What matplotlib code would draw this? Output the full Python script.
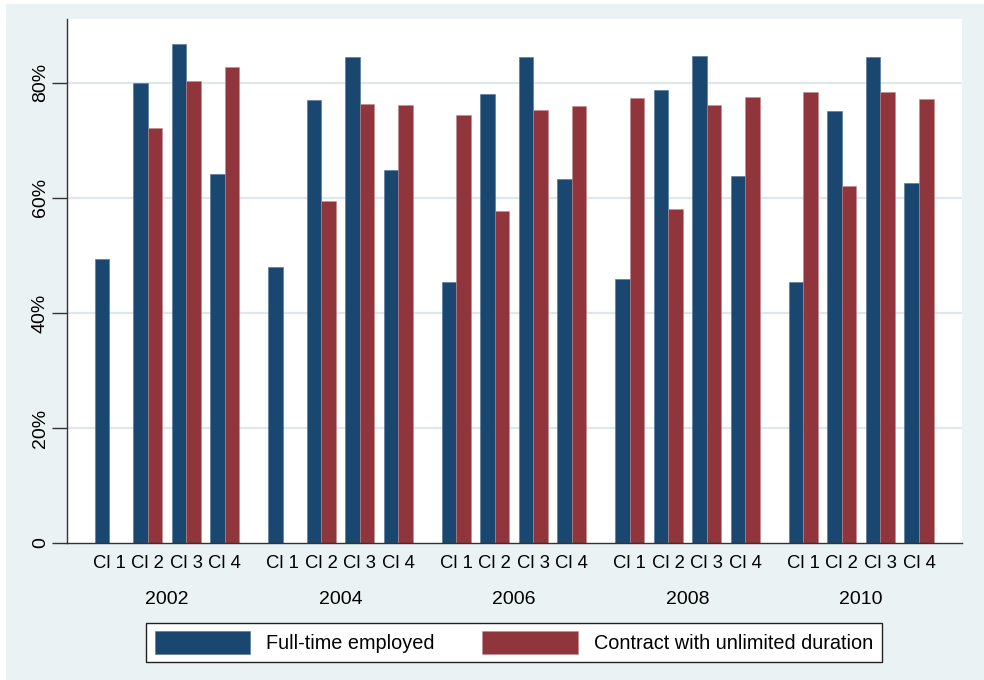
import numpy as np
import matplotlib
matplotlib.use("Agg")
import matplotlib.pyplot as plt
from matplotlib.patches import Rectangle, Patch
from matplotlib.transforms import blended_transform_factory

years = ["2002", "2004", "2006", "2008", "2010"]
classes = ["Cl 1", "Cl 2", "Cl 3", "Cl 4"]
full_time = [
    [49.4, 80.0, 86.8, 64.1],
    [48.0, 77.0, 84.5, 64.9],
    [45.4, 78.0, 84.5, 63.2],
    [45.9, 78.8, 84.6, 63.8],
    [45.4, 75.1, 84.5, 62.6],
]
unlimited = [
    [np.nan, 72.2, 80.3, 82.7],
    [np.nan, 59.4, 76.4, 76.2],
    [74.4, 57.7, 75.3, 75.9],
    [77.3, 58.1, 76.1, 77.5],
    [78.4, 62.1, 78.4, 77.2],
]
series_names = ["Full-time employed", "Contract with unlimited duration"]
yticks = [0, 20, 40, 60, 80]
ytick_labels = ["0", "20%", "40%", "60%", "80%"]

NAVY = "#1A476F"
MAROON = "#90353B"
BG = "#EAF2F3"
GRID = "#DDE8EC"

plt.rcParams["font.family"] = ["Liberation Sans", "DejaVu Sans"]

fig = plt.figure(figsize=(9.84, 6.8), dpi=100)
fig.patch.set_facecolor("white")
fig.patches.append(Rectangle((6 / 984, 0), 1 - 6 / 984, 1 - 4 / 680,
                             transform=fig.transFigure, facecolor=BG,
                             edgecolor="none", zorder=-10))

ax = fig.add_axes([67 / 984, 1 - 543 / 680, (962 - 67) / 984, (543 - 19) / 680])
ax.set_facecolor("white")

gap = 4.5
w = 0.377
centers = []
labels = []
for g, yr in enumerate(years):
    for c, cl in enumerate(classes):
        x = g * gap + c
        centers.append(x)
        labels.append(cl)
        ax.bar(x - w / 2, full_time[g][c], width=w, color=NAVY,
               edgecolor="#4f7396", linewidth=0.4, zorder=3)
        v = unlimited[g][c]
        if not np.isnan(v):
            ax.bar(x + w / 2, v, width=w, color=MAROON,
                   edgecolor="#c08a8e", linewidth=0.4, zorder=3)

ax.set_xlim(-1.094, 22.116)
ax.set_ylim(0, 91.1)

ax.set_xticks(centers)
ax.set_xticklabels(labels, fontsize=13.3)
ax.tick_params(axis="x", length=0, pad=9)

ax.set_yticks(yticks)
ax.set_yticklabels(ytick_labels, fontsize=14, rotation=90, va="center")
ax.tick_params(axis="y", length=11, width=1, color="#333333", pad=2)

for yv in yticks[1:]:
    ax.axhline(yv, color=GRID, linewidth=1.6, zorder=1)

for s in ["top", "right"]:
    ax.spines[s].set_visible(False)
ax.spines["left"].set_color("#333333")
ax.spines["bottom"].set_color("#333333")
ax.spines["left"].set_linewidth(1)
ax.spines["bottom"].set_linewidth(1)
ax.spines["bottom"].set_zorder(5)

tr = blended_transform_factory(ax.transData, ax.transAxes)
for g, yr in enumerate(years):
    ax.text(g * gap + 1.5, -0.107, yr, transform=tr, ha="center",
            va="center", fontsize=14)

handles = [Patch(facecolor=NAVY, edgecolor="#4f7396", linewidth=0.4),
           Patch(facecolor=MAROON, edgecolor="#c08a8e", linewidth=0.4)]
leg = fig.legend(handles, series_names, loc="center",
                 bbox_to_anchor=(513.9 / 984, 1 - 642.5 / 680), ncol=2,
                 fontsize=14.3, frameon=True, fancybox=False,
                 handlelength=4.8, handleheight=1.33, handletextpad=0.8,
                 columnspacing=2.4, borderpad=0.45, borderaxespad=0)
leg.get_frame().set_edgecolor("#222222")
leg.get_frame().set_linewidth(1)
leg.get_frame().set_facecolor("white")
leg.get_frame().set_alpha(1)

fig.savefig("out.png", dpi=100, facecolor=fig.get_facecolor())
